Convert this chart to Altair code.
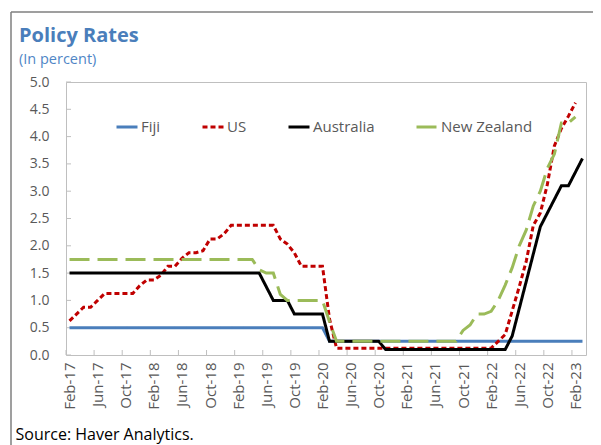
import altair as alt
import pandas as pd

months = [
    "Feb-17", "Mar-17", "Apr-17", "May-17", "Jun-17", "Jul-17", "Aug-17", "Sep-17", "Oct-17", "Nov-17", "Dec-17",
    "Jan-18", "Feb-18", "Mar-18", "Apr-18", "May-18", "Jun-18", "Jul-18", "Aug-18", "Sep-18", "Oct-18", "Nov-18", "Dec-18",
    "Jan-19", "Feb-19", "Mar-19", "Apr-19", "May-19", "Jun-19", "Jul-19", "Aug-19", "Sep-19", "Oct-19", "Nov-19", "Dec-19",
    "Jan-20", "Feb-20", "Mar-20", "Apr-20", "May-20", "Jun-20", "Jul-20", "Aug-20", "Sep-20", "Oct-20", "Nov-20", "Dec-20",
    "Jan-21", "Feb-21", "Mar-21", "Apr-21", "May-21", "Jun-21", "Jul-21", "Aug-21", "Sep-21", "Oct-21", "Nov-21", "Dec-21",
    "Jan-22", "Feb-22", "Mar-22", "Apr-22", "May-22", "Jun-22", "Jul-22", "Aug-22", "Sep-22", "Oct-22", "Nov-22", "Dec-22",
    "Jan-23", "Feb-23", "Mar-23",
]

fiji = [
    0.5, 0.5, 0.5, 0.5, 0.5, 0.5, 0.5, 0.5, 0.5, 0.5, 0.5,
    0.5, 0.5, 0.5, 0.5, 0.5, 0.5, 0.5, 0.5, 0.5, 0.5, 0.5, 0.5,
    0.5, 0.5, 0.5, 0.5, 0.5, 0.5, 0.5, 0.5, 0.5, 0.5, 0.5, 0.5,
    0.5, 0.5, 0.25, 0.25, 0.25, 0.25, 0.25, 0.25, 0.25, 0.25, 0.25, 0.25,
    0.25, 0.25, 0.25, 0.25, 0.25, 0.25, 0.25, 0.25, 0.25, 0.25, 0.25, 0.25,
    0.25, 0.25, 0.25, 0.25, 0.25, 0.25, 0.25, 0.25, 0.25, 0.25, 0.25, 0.25,
    0.25, 0.25, 0.25,
]

us = [
    0.625, 0.75, 0.875, 0.875, 1.0, 1.125, 1.125, 1.125, 1.125, 1.125, 1.27,
    1.375, 1.375, 1.46, 1.625, 1.625, 1.77, 1.875, 1.875, 1.91, 2.125, 2.125, 2.22,
    2.375, 2.375, 2.375, 2.375, 2.375, 2.375, 2.375, 2.125, 2.03, 1.87, 1.625, 1.625,
    1.625, 1.625, 0.66, 0.125, 0.125, 0.125, 0.125, 0.125, 0.125, 0.125, 0.125, 0.125,
    0.125, 0.125, 0.125, 0.125, 0.125, 0.125, 0.125, 0.125, 0.125, 0.125, 0.125, 0.125,
    0.125, 0.125, 0.25, 0.375, 0.81, 1.25, 1.72, 2.375, 2.6, 3.125, 3.83, 4.15,
    4.375, 4.62,
]

australia = [
    1.5, 1.5, 1.5, 1.5, 1.5, 1.5, 1.5, 1.5, 1.5, 1.5, 1.5,
    1.5, 1.5, 1.5, 1.5, 1.5, 1.5, 1.5, 1.5, 1.5, 1.5, 1.5, 1.5,
    1.5, 1.5, 1.5, 1.5, 1.5, 1.25, 1.0, 1.0, 1.0, 0.75, 0.75, 0.75,
    0.75, 0.75, 0.25, 0.25, 0.25, 0.25, 0.25, 0.25, 0.25, 0.25, 0.1, 0.1,
    0.1, 0.1, 0.1, 0.1, 0.1, 0.1, 0.1, 0.1, 0.1, 0.1, 0.1, 0.1,
    0.1, 0.1, 0.1, 0.1, 0.35, 0.85, 1.35, 1.85, 2.35, 2.6, 2.85, 3.1,
    3.1, 3.35, 3.6,
]

new_zealand = [
    1.75, 1.75, 1.75, 1.75, 1.75, 1.75, 1.75, 1.75, 1.75, 1.75, 1.75,
    1.75, 1.75, 1.75, 1.75, 1.75, 1.75, 1.75, 1.75, 1.75, 1.75, 1.75, 1.75,
    1.75, 1.75, 1.75, 1.75, 1.56, 1.5, 1.5, 1.11, 1.0, 1.0, 1.0, 1.0,
    1.0, 1.0, 0.61, 0.25, 0.25, 0.25, 0.25, 0.25, 0.25, 0.25, 0.25, 0.25,
    0.25, 0.25, 0.25, 0.25, 0.25, 0.25, 0.25, 0.25, 0.25, 0.45, 0.55, 0.75,
    0.75, 0.8, 1.0, 1.28, 1.6, 2.0, 2.29, 2.73, 3.0, 3.42, 3.68, 4.25,
    4.25, 4.36,
]

series_names = ["Fiji", "US", "Australia", "New Zealand"]
series_values = [fiji, us, australia, new_zealand]
series_colors = ["#4A7EBB", "#C00000", "#000000", "#9BBB59"]
series_dashes = [[1, 0], [5, 3], [1, 0], [20, 8]]

y_ticks = [0.0, 0.5, 1.0, 1.5, 2.0, 2.5, 3.0, 3.5, 4.0, 4.5, 5.0]
tick_every = 4

FONT = "Open Sans"
W, H = 520, 273
n_months = len(months)

rows = []
for name, vals in zip(series_names, series_values):
    for i, v in enumerate(vals):
        rows.append({"series": name, "month": months[i], "pos": i + 0.5, "val": v})
df = pd.DataFrame(rows)

tick_idx = list(range(0, n_months, tick_every))
tick_labels = [months[i] for i in tick_idx]
label_expr = "[" + ",".join("'%s'" % t for t in tick_labels) + "][round((datum.value - 0.5) / %d)]" % tick_every

x_scale = alt.Scale(domain=[0, n_months], nice=False, zero=False)
y_scale = alt.Scale(domain=[0, 5], nice=False)

x_axis = alt.Axis(
    values=[i + 0.5 for i in tick_idx], labelExpr=label_expr, labelAngle=-90,
    labelFont=FONT, labelFontSize=15, labelColor="#595959", labelPadding=7,
    labelFlush=False, labelOverlap=False, ticks=False, domain=False, grid=False,
    title="Source: Haver Analytics.", titleX=-51, titleY=84, titleAnchor="start",
    titleAlign="left", titleBaseline="alphabetic", titleFont=FONT, titleFontSize=16,
    titleFontWeight="normal", titleColor="#000000",
)
y_axis = alt.Axis(
    values=y_ticks, format=".1f", labelFont=FONT, labelFontSize=14, labelColor="#595959",
    labelPadding=17, ticks=False, domain=False, grid=False, title=None,
)

legend = alt.Legend(
    title=None, orient="none", legendX=49, legendY=33, direction="horizontal", columns=4,
    columnPadding=35, symbolType="stroke", symbolSize=441, symbolStrokeWidth=3,
    labelFont=FONT, labelFontSize=15, labelColor="#595959", labelOffset=2, padding=0,
)

color_enc = alt.Color("series:N", scale=alt.Scale(domain=series_names, range=series_colors), legend=legend)
dash_enc = alt.StrokeDash("series:N", scale=alt.Scale(domain=series_names, range=series_dashes), legend=legend)

one = pd.DataFrame({"k": [0]})
frame_top = alt.Chart(one).mark_rule(color="#7F7F7F", strokeWidth=1.5).encode(
    x=alt.value(-55), x2=alt.value(540), y=alt.value(-70))
frame_left = alt.Chart(one).mark_rule(color="#7F7F7F", strokeWidth=1.5).encode(
    x=alt.value(-55), y=alt.value(-70), y2=alt.value(370))

xt = pd.DataFrame({"pos": [float(i) for i in tick_idx]})
x_tick_marks = alt.Chart(xt).mark_rule(color="#BFBFBF", strokeWidth=1).encode(
    x=alt.X("pos:Q", scale=x_scale, axis=x_axis), y=alt.value(H - 5), y2=alt.value(H))

yt = pd.DataFrame({"val": y_ticks})
y_tick_marks = alt.Chart(yt).mark_rule(color="#BFBFBF", strokeWidth=1).encode(
    y=alt.Y("val:Q", scale=y_scale, axis=y_axis), x=alt.value(0), x2=alt.value(5))

lines = []
for s in series_names:
    lines.append(
        alt.Chart(df).transform_filter(alt.datum.series == s).mark_line(strokeWidth=3).encode(
            x=alt.X("pos:Q", scale=x_scale, axis=x_axis),
            y=alt.Y("val:Q", scale=y_scale, axis=y_axis),
            color=color_enc,
            strokeDash=dash_enc,
        )
    )

chart = alt.layer(frame_top, frame_left, x_tick_marks, y_tick_marks, *lines).properties(
    width=W, height=H,
    title=alt.Title(
        text="Policy Rates", subtitle="(In percent)", anchor="start", frame="group",
        dx=-47, offset=-55, font=FONT, fontSize=20, fontWeight="bold", color="#4A7EBB",
        subtitleFont=FONT, subtitleFontSize=14.5, subtitleColor="#4F86C6", subtitlePadding=7,
    ),
    padding={"left": 58, "top": 74, "right": 7, "bottom": 90},
    autosize=alt.AutoSizeParams(type="none"),
).configure_view(stroke="#BFBFBF", strokeWidth=1)

chart.save("out.html", embed_options={"renderer": "svg", "actions": False})
